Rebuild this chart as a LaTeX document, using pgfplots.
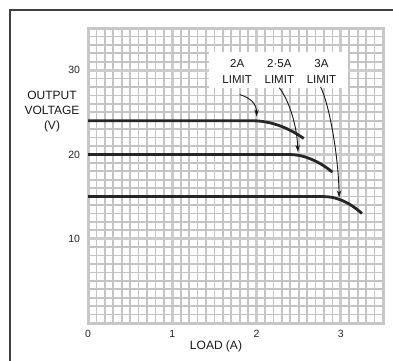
\documentclass[border=0pt]{standalone}
\usepackage{pgfplots}
\pgfplotsset{compat=1.18}
\usetikzlibrary{arrows.meta}
\usepackage{fontspec}
\setmainfont{Liberation Sans}
\begin{document}
\begin{tikzpicture}[x=1pt,y=1pt]
\useasboundingbox (0,0) rectangle (393,360);
\fill[white] (0,0) rectangle (393,360);
\draw[line width=2pt, black!75] (10,-5) -- (10,350) -- (400,350);
\begin{axis}[
  at={(88pt,37pt)}, anchor=south west,
  scale only axis, width=295pt, height=295pt,
  xmin=0, xmax=3.5, ymin=0, ymax=35,
  xtick={0,1,2,3}, ytick={10,20,30},
  minor xtick={0,0.1,...,3.55},
  minor ytick={0,1,...,35},
  grid=both,
  minor grid style={color=black!23, line width=1.6pt},
  major grid style={color=black!20, line width=3pt},
  axis line style={color=black!22, line width=3pt},
  major tick length=0pt, minor tick length=0pt,
  /pgf/number format/assume math mode=true,
  ticklabel style={font=\fontsize{10.5}{12}\selectfont, black!85},
  xticklabel style={yshift=-4pt},
  yticklabel style={xshift=-4.5pt},
  clip=false,
]
\fill[white] (axis cs:1.43,27.9) rectangle (axis cs:3.09,32.1);
\addplot[smooth, line width=2.8pt, black!85] coordinates {
 (0,24) (1.75,24) (1.85,24) (1.95,24) (2.05,23.94) (2.15,23.77) (2.25,23.49) (2.35,23.10) (2.45,22.59) (2.56,21.9)};
\addplot[smooth, line width=2.8pt, black!85] coordinates {
 (0,20) (2.15,20) (2.25,20) (2.35,20) (2.45,19.96) (2.55,19.78) (2.65,19.43) (2.75,18.94) (2.83,18.43) (2.9,17.9)};
\addplot[smooth, line width=2.8pt, black!85] coordinates {
 (0,15) (2.6,15) (2.7,15) (2.8,15) (2.9,14.90) (3.0,14.60) (3.1,14.11) (3.18,13.57) (3.25,13.0)};
\draw[-{Stealth[length=7pt,width=4.5pt]}, line width=0.9pt, black!90]
  (axis cs:1.80,27.1) .. controls (axis cs:1.93,26.7) and (axis cs:2.0,26.0) .. (axis cs:2.0,24.5);
\draw[-{Stealth[length=7pt,width=4.5pt]}, line width=0.9pt, black!90]
  (axis cs:2.27,27.9) .. controls (axis cs:2.38,26.5) and (axis cs:2.48,23.5) .. (axis cs:2.49,20.3);
\draw[-{Stealth[length=7pt,width=4.5pt]}, line width=0.9pt, black!90]
  (axis cs:2.76,28.0) .. controls (axis cs:2.86,26) and (axis cs:2.97,20) .. (axis cs:2.98,14.9);
\node[align=center, font=\fontsize{11.5}{16}\selectfont, black!90] at (axis cs:1.77,29.9) {2A\\LIMIT};
\node[align=center, font=\fontsize{11.5}{16}\selectfont, black!90] at (axis cs:2.27,29.9) {2·5A\\LIMIT};
\node[align=center, font=\fontsize{11.5}{16}\selectfont, black!90] at (axis cs:2.77,29.9) {3A\\LIMIT};
\end{axis}
\node[align=center, font=\fontsize{12}{15}\selectfont, black!90] at (52,248) {OUTPUT\\VOLTAGE\\(V)};
\node[font=\fontsize{12}{14}\selectfont, black!90] at (216,14) {LOAD (A)};
\end{tikzpicture}
\end{document}
